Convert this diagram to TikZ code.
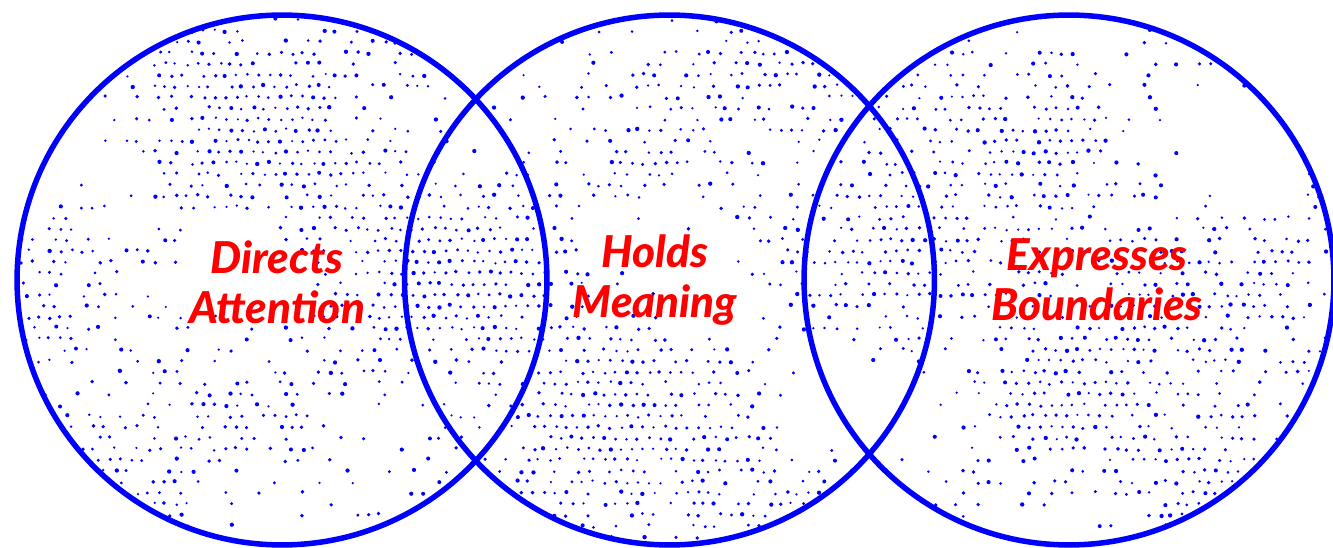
\documentclass[tikz,border=0pt]{standalone}
\usepackage{fontspec}
\setmainfont{Lato}[BoldFont={Lato Black}, BoldItalicFont={Lato Black Italic}]
\usetikzlibrary{calc}

\begin{document}
\begin{tikzpicture}[x=0.02cm, y=0.02cm,
                    ring/.style={circle, draw=blue, line width=0.11cm, minimum size=10.6cm, inner sep=0pt},
                    motto/.style={text=red, font=\fontsize{25}{28.5}\selectfont\bfseries\itshape, align=center},
                    speck/.style={fill=blue}]

    \useasboundingbox (0,0) rectangle (1333,548);
    \clip (0,0) rectangle (1333,548);

    % halftone dots, only inside the three circles
    \begin{scope}
        \clip (282,268) circle (265) (669.5,268) circle (265) (1069,268) circle (265);
        \pgfmathsetseed{7}
        \foreach \row in {0,...,50}{
            \foreach \col in {0,...,122}{
                \pgfmathsetmacro{\px}{\col*11 + mod(\row,2)*5.5 + 1.5*rand}
                \pgfmathsetmacro{\py}{\row*11 + 1.5*rand}
                \pgfmathsetmacro{\dens}{sin(0.9*\px+40)*cos(1.3*\py) + 0.7*sin(0.6*(\px+\py)+20) + 1.3*rand}
                \ifdim\dens pt>0.05pt
                    \pgfmathsetmacro{\rad}{1.2+1.0*rnd}
                    \fill[speck] (\px,\py) circle (\rad);
                \fi
            }
        }
    \end{scope}

    \node[ring] (attention) at (282,268) {};
    \node[ring] (meaning) at (669.5,268) {};
    \node[ring] (boundaries) at (1069,268) {};

    \node[motto] (attn text) at (277,266) {Directs\\Attention};
    \node[motto] (mean text) at (655,268) {Holds\\Meaning};
    \node[motto] (bound text) at (1097,268) {Expresses\\Boundaries};
\end{tikzpicture}
\end{document}
